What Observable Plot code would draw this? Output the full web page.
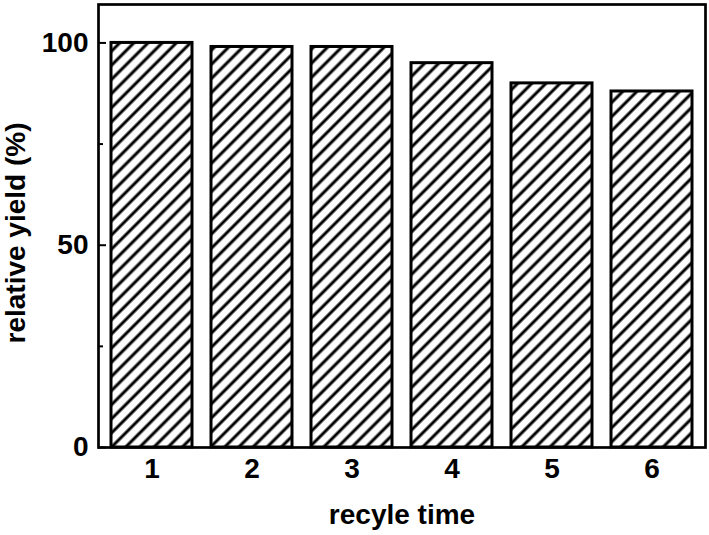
<!DOCTYPE html>
<html>
<head>
<meta charset="utf-8">
<script src="https://cdn.jsdelivr.net/npm/d3@7"></script>
<script src="https://cdn.jsdelivr.net/npm/@observablehq/plot@0.6"></script>
<style>
  html, body { margin: 0; padding: 0; background: #fff; }
  #chart { width: 709px; height: 535px; }
  svg { font-family: "Liberation Sans", Arial, sans-serif; font-weight: bold; }
</style>
</head>
<body>
<div id="chart"></div>
<script>
const cycles = ["1", "2", "3", "4", "5", "6"];
const yields = [100, 99, 99, 95, 90, 88];
const majorTicks = [0, 50, 100];
const minorTicks = [25, 75];
const xTitle = "recyle time";
const yTitle = "relative yield (%)";

const data = cycles.map((c, i) => ({cycle: c, value: yields[i]}));

const chart = Plot.plot({
  width: 709,
  height: 535,
  marginLeft: 98,
  marginRight: 4,
  marginTop: 4,
  marginBottom: 88,
  style: {fontSize: "28px", fontWeight: "bold", fontFamily: "'Liberation Sans', Arial, sans-serif", color: "black", background: "white"},
  x: {domain: cycles, paddingInner: 0.19, paddingOuter: 0.1},
  y: {domain: [0, 109.5]},
  marks: [
    Plot.barY(data, {x: "cycle", y: "value", fill: "url(#hatch)", stroke: "black", strokeWidth: 3}),
    Plot.axisY(majorTicks, {tickSize: 0, tickPadding: 10, label: null, fontSize: 28}),
    Plot.axisY(majorTicks, {tickSize: -8, fill: "none", label: null, strokeWidth: 2}),
    Plot.axisY(minorTicks, {tickSize: -5, fill: "none", label: null, strokeWidth: 2}),
    Plot.axisX({tickSize: 0, tickPadding: 11, label: null, fontSize: 28}),
    Plot.frame({stroke: "black", strokeWidth: 2.7}),
    Plot.text([yTitle], {frameAnchor: "left", dx: -82, dy: 7, rotate: -90, text: d => d, textAnchor: "middle", lineAnchor: "middle", fontSize: 28, fontWeight: "bold"}),
    Plot.text([xTitle], {frameAnchor: "bottom", dy: 68, text: d => d, textAnchor: "middle", lineAnchor: "middle", fontSize: 28, fontWeight: "bold"})
  ]
});

d3.select(chart).insert("defs", ":first-child").html(
  '<pattern id="hatch" patternUnits="userSpaceOnUse" width="10" height="10" patternTransform="rotate(45)">' +
  '<rect width="10" height="10" fill="white"></rect>' +
  '<line x1="5" y1="-1" x2="5" y2="11" stroke="black" stroke-width="3"></line>' +
  '</pattern>'
);

document.getElementById("chart").appendChild(chart);
</script>
</body>
</html>
